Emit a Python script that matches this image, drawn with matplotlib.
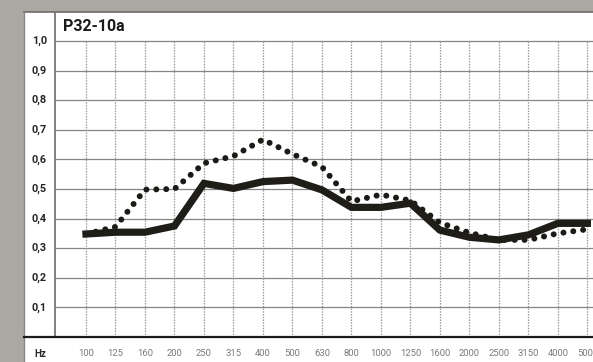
import matplotlib
matplotlib.use("Agg")
import matplotlib.pyplot as plt
from matplotlib.patches import Rectangle
from matplotlib.lines import Line2D

plt.rcParams['font.family'] = ['Roboto', 'DejaVu Sans']

freqs = ["100", "125", "160", "200", "250", "315", "400", "500", "630", "800",
         "1000", "1250", "1600", "2000", "2500", "3150", "4000", "5000"]
solid_vals = [0.348, 0.354, 0.354, 0.375, 0.519, 0.502, 0.525, 0.530, 0.497, 0.438,
              0.438, 0.452, 0.361, 0.337, 0.328, 0.345, 0.384, 0.384]
dotted_vals = [0.348, 0.372, 0.498, 0.500, 0.587, 0.611, 0.667, 0.618, 0.575, 0.458,
               0.481, 0.461, 0.386, 0.352, 0.328, 0.328, 0.350, 0.364]
yticks = [0.1, 0.2, 0.3, 0.4, 0.5, 0.6, 0.7, 0.8, 0.9, 1.0]
ytick_labels = ["0,1", "0,2", "0,3", "0,4", "0,5", "0,6", "0,7", "0,8", "0,9", "1,0"]
title = "P32-10a"

W, H = 593, 362
fig = plt.figure(figsize=(W / 100, H / 100), dpi=100)
fig.patch.set_facecolor('#aba7a3')

# white panel
fig.patches.append(Rectangle((24 / W, 0), 1 - 24 / W, (H - 12) / H, transform=fig.transFigure,
                             facecolor='white', edgecolor='none', zorder=-5))
fig.lines.append(Line2D([24 / W, 1], [(H - 12) / H] * 2, transform=fig.transFigure,
                        color='#6e6a66', lw=1.2, zorder=-4))
fig.lines.append(Line2D([24 / W, 24 / W], [0, (H - 12) / H], transform=fig.transFigure,
                        color='#8a8783', lw=1.0, zorder=-4))

ax = fig.add_axes([55 / W, 25 / H, (W - 55) / W, (337 - 12) / H])
ax.set_zorder(2)
ax.patch.set_visible(False)
ax.set_xlim(-1.05, 17.19)
ax.set_ylim(0, (337 - 12) / 296)

x = list(range(len(freqs)))

for yv in yticks:
    ax.axhline(yv, color='#858585', lw=0.9, zorder=1)
ax.vlines(x, 0, 1.0, colors='#9a9a9a', lw=0.9, linestyles=(0, (1.2, 1.0)), zorder=1)

ax.plot(x, dotted_vals, color='#1c1a16', lw=4.3, linestyle=(0, (0.01, 1.65)),
        dash_capstyle='round', zorder=3)
ax.plot(x, solid_vals, color='#1f1d17', lw=5.2, solid_joinstyle='miter', zorder=4)

for s in ['top', 'right', 'bottom']:
    ax.spines[s].set_visible(False)
ax.spines['left'].set_color('#777777')
ax.spines['left'].set_linewidth(1.3)
ax.set_xticks([])
ax.set_yticks([])

# bottom baseline
fig.lines.append(Line2D([24 / W, 1], [25 / H, 25 / H], transform=fig.transFigure,
                        color='#1a1a1a', lw=1.6, zorder=5))

ax.text(0.014, 0.955, title, transform=ax.transAxes, fontsize=11.5, fontweight='bold',
        color='#1a1a1a', ha='left', va='center')

for yv, lab in zip(yticks, ytick_labels):
    ax.text(-8 / (W - 55), yv, lab, transform=ax.get_yaxis_transform(), ha='right', va='center',
            fontsize=7.8, fontweight='bold', color='#262626', clip_on=False)

for xi, lab in zip(x, freqs):
    ax.text(xi, -17 / 296, lab, ha='center', va='center', fontsize=6.8, color='#7a7a7a',
            clip_on=False)
fig.text(40 / W, 1 - 354 / H, "Hz", ha='center', va='center', fontsize=7,
         fontweight='bold', color='#2a2a2a')

fig.savefig("out.png", dpi=100, facecolor=fig.get_facecolor())
